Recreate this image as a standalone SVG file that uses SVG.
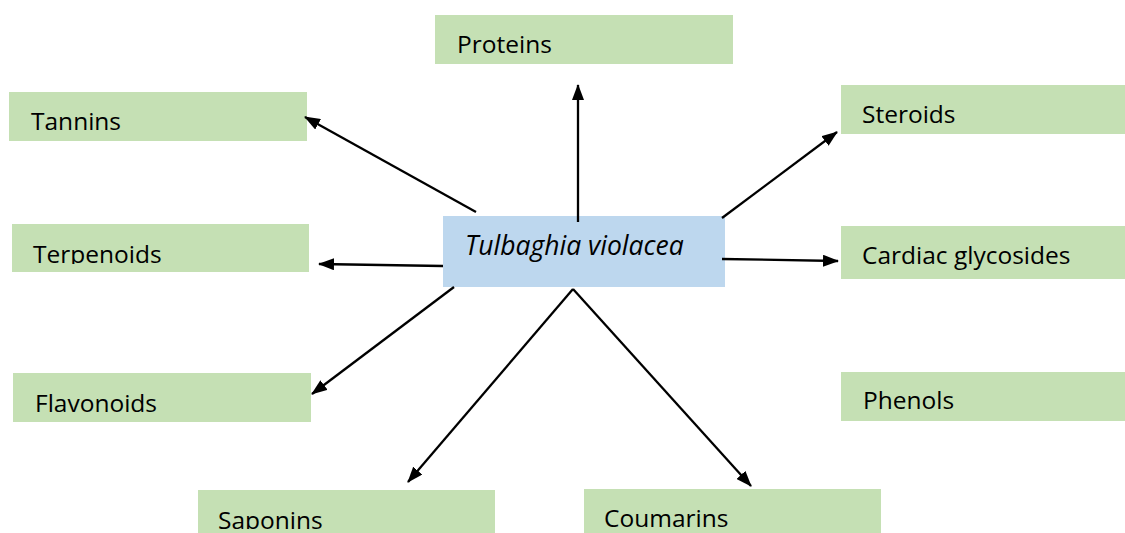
<svg xmlns="http://www.w3.org/2000/svg" width="1125" height="533" viewBox="0 0 1125 533">
<style>
.g{fill:#C5E0B4}
.b{fill:#BDD7EE}
.t{font-family:"Open Sans","Noto Sans",sans-serif;font-size:24.5px;fill:#000}
.i{font-style:italic;font-size:26.5px}
.c{stroke:#000;stroke-width:2.3;fill:none;marker-end:url(#ah)}
</style>
<defs>
<marker id="ah" viewBox="0 0 16 12" refX="15" refY="6" markerWidth="16" markerHeight="12" markerUnits="userSpaceOnUse" orient="auto">
<path d="M0,0 L16,6 L0,12 z" fill="#000"/>
</marker>
<clipPath id="clipTerp"><rect x="0" y="0" width="400" height="264"/></clipPath>
<clipPath id="clipSap"><rect x="0" y="0" width="600" height="529"/></clipPath>
</defs>
<g id="center"><rect class="b" x="443" y="216" width="282" height="71"/><text class="t i" x="465" y="255">Tulbaghia violacea</text></g>
<g id="proteins"><rect class="g" x="435" y="15" width="298" height="49"/><text class="t" x="457" y="53">Proteins</text></g>
<g id="tannins"><rect class="g" x="9" y="92" width="298" height="49"/><text class="t" x="31" y="130">Tannins</text></g>
<g id="steroids"><rect class="g" x="841" y="85" width="284" height="49"/><text class="t" x="862" y="123">Steroids</text></g>
<g id="terpenoids"><rect class="g" x="12" y="224" width="297" height="48"/><text class="t" x="33" y="263" clip-path="url(#clipTerp)">Terpenoids</text></g>
<g id="cardiac"><rect class="g" x="841" y="226" width="284" height="53"/><text class="t" x="862" y="264">Cardiac glycosides</text></g>
<g id="flavonoids"><rect class="g" x="13" y="373" width="298" height="49"/><text class="t" x="35" y="412">Flavonoids</text></g>
<g id="phenols"><rect class="g" x="841" y="372" width="284" height="49"/><text class="t" x="863" y="409">Phenols</text></g>
<g id="saponins"><rect class="g" x="198" y="490" width="297" height="43"/><text class="t" x="218" y="529" clip-path="url(#clipSap)">Saponins</text></g>
<g id="coumarins"><rect class="g" x="584" y="489" width="297" height="44"/><text class="t" x="604" y="527">Coumarins</text></g>
<g id="connectors">
<line class="c" x1="578" y1="222" x2="578" y2="85"/>
<line class="c" x1="476" y1="212" x2="305" y2="117"/>
<line class="c" x1="722" y1="218" x2="837" y2="132"/>
<line class="c" x1="443" y1="266" x2="319" y2="264"/>
<line class="c" x1="722" y1="259" x2="838" y2="261"/>
<line class="c" x1="454" y1="287" x2="312" y2="394"/>
<line class="c" x1="573" y1="289" x2="408" y2="482"/>
<line class="c" x1="573" y1="289" x2="751" y2="486"/>
</g>
</svg>
